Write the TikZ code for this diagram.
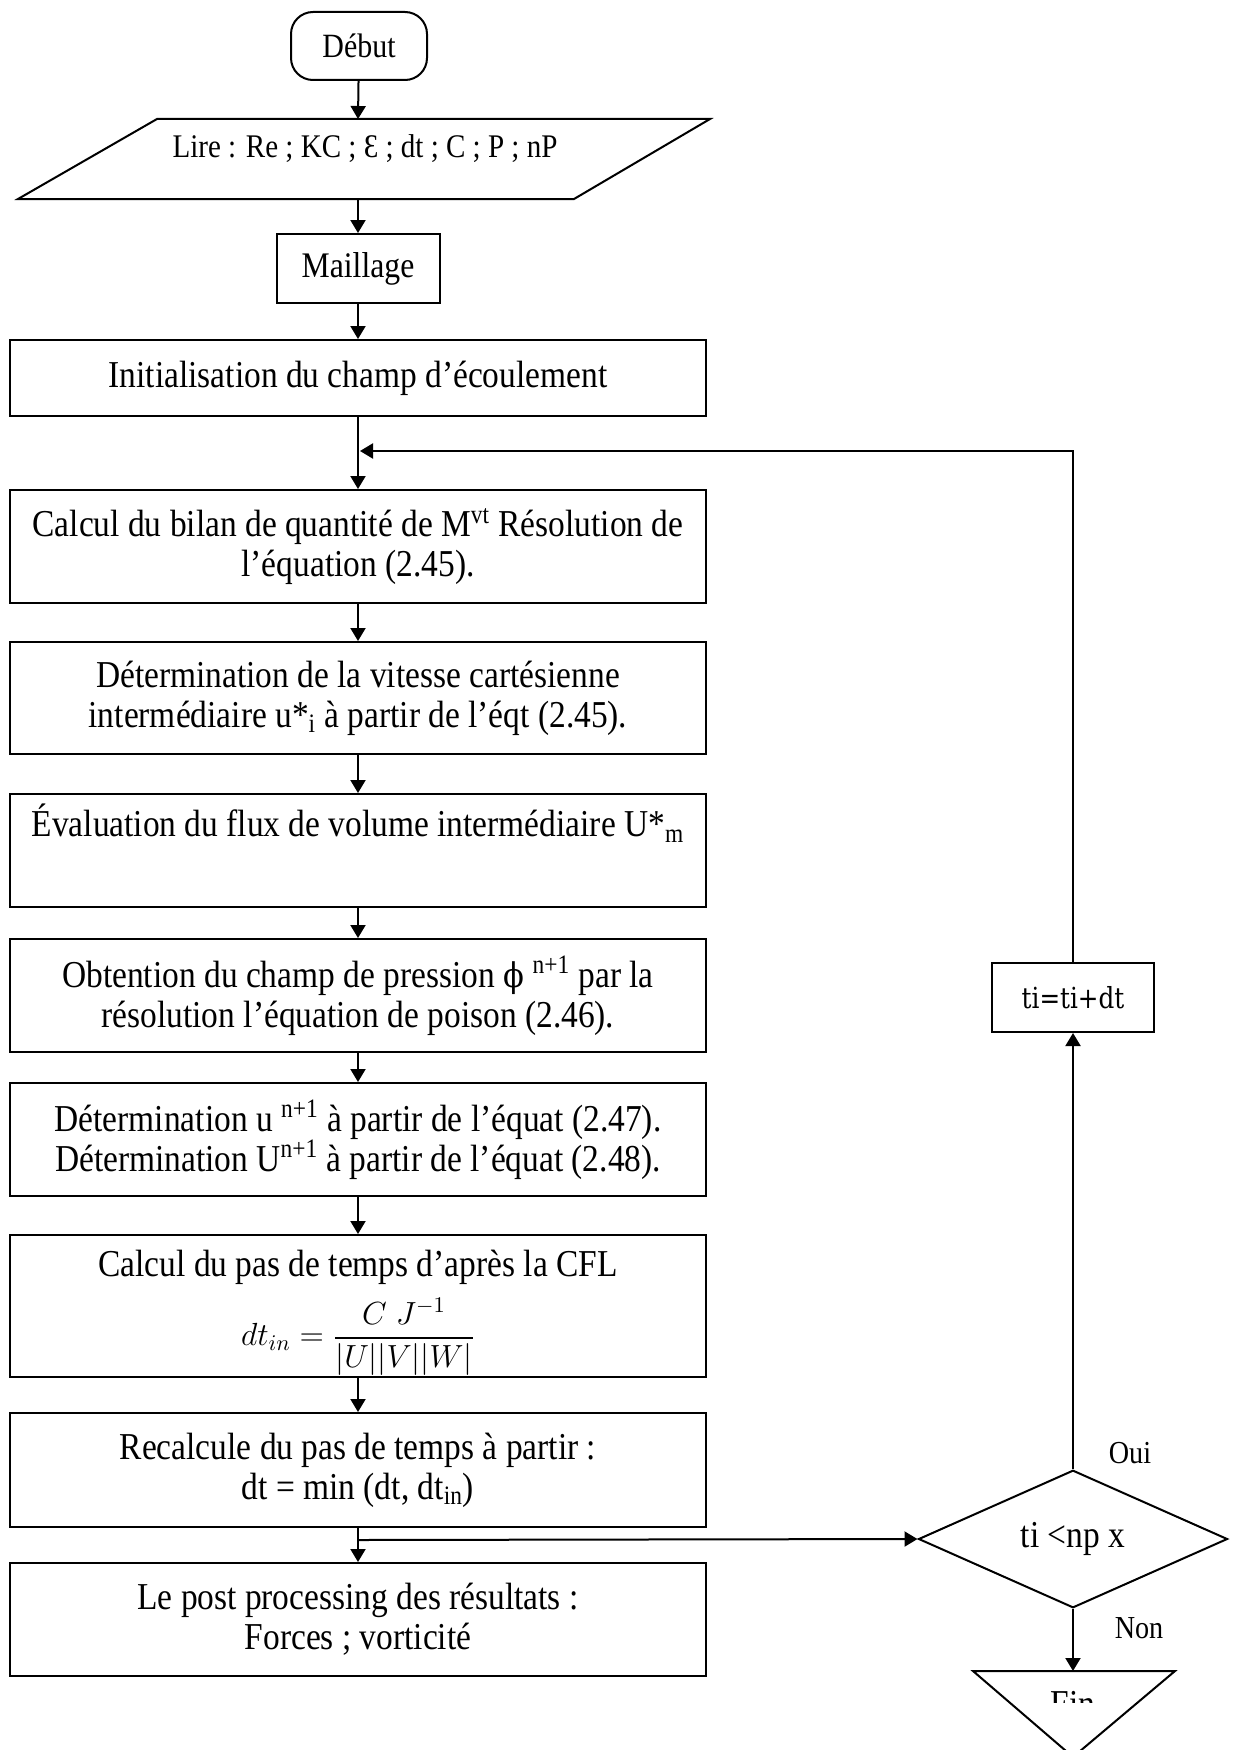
\RequirePackage{fix-cm}
\documentclass[tikz,border=0pt]{standalone}
\usepackage{amsmath}
\usepackage{fontspec}
\setmainfont{Liberation Serif}[FakeStretch=0.88]
\newfontfamily\tifont{DejaVu Serif}[FakeStretch=0.85]
\newfontfamily\phifont{DejaVu Serif}[FakeStretch=0.9]
\usetikzlibrary{shapes.geometric,arrows.meta}
\tikzset{
  ln/.style={line width=1pt},
  arr/.style={line width=1pt,-{Triangle[length=6.5pt,width=7.5pt]}},
  box/.style={draw,line width=1pt,minimum width=348pt,align=center,inner sep=0pt},
  term/.style={draw,line width=1pt,rounded corners=11pt,minimum width=68pt,minimum height=34pt,inner sep=0pt},
  decision/.style={draw,line width=1pt,diamond,minimum width=154.5pt,minimum height=56pt,inner sep=0pt},
  lbl/.style={inner sep=0pt,font=\fontsize{16}{18}\selectfont}
}
\begin{document}
\begin{tikzpicture}[x=0.5pt,y=-0.5pt,font=\fontsize{19}{20}\selectfont]
\clip (0,0) rectangle (1238,1750);
\fill[white] (0,0) rectangle (1238,1750);

% Start
\node[term,font=\fontsize{17}{19}\selectfont] (debut) at (359,46) {Début};

% Input parallelogram
\draw[ln] (157,119) -- (710,119) -- (574,199) -- (18,199) -- cycle;
\node[inner sep=0pt,font=\fontsize{16.5}{18}\selectfont] (lire) at (365,149) {Lire : Re ; KC ; Ɛ ; dt ; C ; P ; nP};
\coordinate (lireN) at (358,119);
\coordinate (lireS) at (358,199);

% Boxes
\node[draw,line width=1pt,minimum width=81.5pt,minimum height=34.5pt,inner sep=0pt,font=\fontsize{18}{20}\selectfont] (maill) at (358,268.5) {Maillage};
\node[box,minimum height=38pt] (init) at (358,378) {Initialisation du champ d’écoulement};
\node[box,minimum height=56.5pt] (calc) at (358,546.5) {Calcul du bilan de quantité de M\textsuperscript{vt} Résolution de\\ l’équation (2.45).};
\node[box,minimum height=56pt] (det) at (358,698) {Détermination de la vitesse cartésienne\\ intermédiaire u*\textsubscript{i} à partir de l’éqt (2.45).};
\node[box,minimum height=56.5pt] (eval) at (358,850.5) {Évaluation du flux de volume intermédiaire U*\textsubscript{m}\\[10pt] \mbox{}};
\node[box,minimum height=56.5pt] (obt) at (358,995.5) {Obtention du champ de pression {\phifont\fontsize{17}{20}\selectfont ϕ} \textsuperscript{n+1} par la\\ résolution l’équation de poison (2.46).};
\node[box,minimum height=56.5pt] (detu) at (358,1139.5) {Détermination u \textsuperscript{n+1} à partir de l’équat (2.47).\\ Détermination U\textsuperscript{n+1} à partir de l’équat (2.48).};
\node[box,minimum height=71pt] (cfl) at (358,1306) {\rule{0pt}{20pt}Calcul du pas de temps d’après la CFL\\[6pt] {\fontsize{16}{18}\selectfont $dt_{in}=\dfrac{C\;J^{-1}}{|U||V||W|}$}};
\node[box,minimum height=57pt] (rec) at (358,1470) {Recalcule du pas de temps à partir :\\ dt = min (dt, dt\textsubscript{in})};
\node[box,minimum height=56.5pt] (post) at (358,1619.5) {Le post processing des résultats :\\ Forces ; vorticité};

% Right column
\node[draw,line width=1pt,minimum width=81pt,minimum height=34.5pt,inner sep=0pt,font=\tifont\fontsize{14.5}{16}\selectfont] (tt) at (1073,997.5) {ti=ti+dt\hspace{12pt}};
\node[decision] (dec) at (1073,1539) {ti <np x};
\draw[ln] (973,1671) -- (1175,1671) -- (1073,1757) -- cycle;
\coordinate (fin) at (1073,1671);
\begin{scope}
  \clip (1000,1600) rectangle (1150,1702);
  \node[anchor=base,inner sep=0pt] (fintext) at (1073,1716) {Fin};
\end{scope}
\node[lbl] (oui) at (1130,1453) {Oui};
\node[lbl] (non) at (1139,1628) {Non};

% Connectors
\draw[arr] (debut) -- (lireN);
\draw[arr] (lireS) -- (maill);
\draw[arr] (maill) -- (init);
\draw[arr] (init) -- (calc);
\draw[arr] (calc) -- (det);
\draw[arr] (det) -- (eval);
\draw[arr] (eval) -- (obt);
\draw[arr] (obt) -- (detu);
\draw[arr] (detu) -- (cfl);
\draw[arr] (cfl) -- (rec);
\draw[arr] (rec) -- (post);
\coordinate (j2) at (358,1540);
\draw[arr] (j2) -- (dec.west);
\draw[arr] (dec.north) -- (tt.south);
\coordinate (j1) at (360,451);
\draw[arr] (tt.north) |- (j1);
\draw[arr] (dec.south) -- (fin);
\end{tikzpicture}
\end{document}
